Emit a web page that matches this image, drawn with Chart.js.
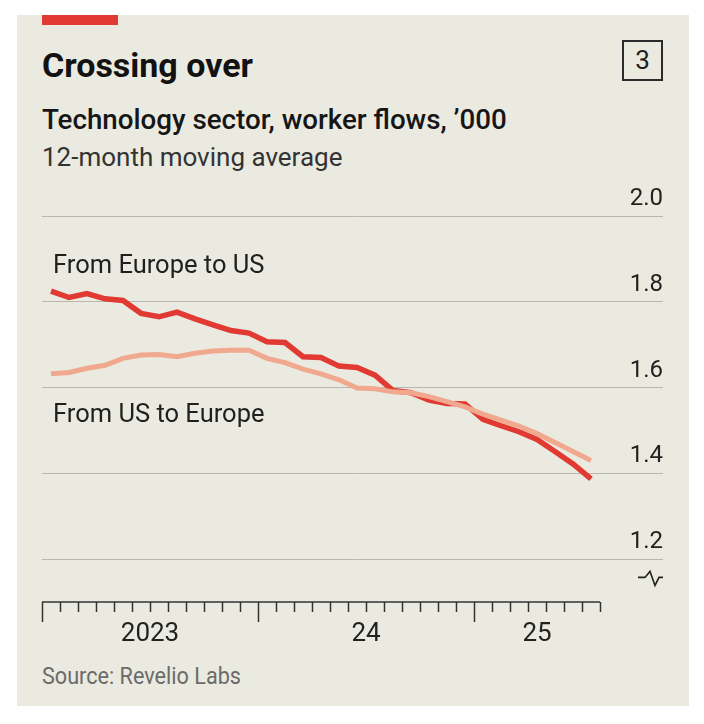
<!DOCTYPE html>
<html>
<head>
<meta charset="utf-8">
<script src="https://cdn.jsdelivr.net/npm/chart.js@4.4.1/dist/chart.umd.min.js"></script>
<style>
  body { margin: 0; background: #fff; font-family: Roboto, sans-serif; }
  #panel { position: absolute; left: 17px; top: 15px; width: 672px; height: 691px; background: #ebeae0; }
  .txt { position: absolute; white-space: nowrap; line-height: 1; transform-origin: 0 0; }
  #bar { position: absolute; left: 42px; top: 15px; width: 76px; height: 10px; background: #e03a33; }
  #title { left: 42px; top: 48px; font-size: 34px; font-weight: 700; color: #121212; transform: scaleX(1.0); }
  #sub { left: 42px; top: 106px; font-size: 28px; font-weight: 500; color: #161616; transform: scaleX(0.99); }
  #sub2 { left: 42px; top: 144px; font-size: 26px; font-weight: 400; color: #333; }
  #num { position: absolute; left: 622px; top: 40px; width: 37px; height: 37px; border: 2px solid #2b2b2b;
         font-size: 26px; line-height: 37px; text-align: center; color: #222; }
  #source { left: 42px; top: 665px; font-size: 23px; color: #6b6b6b; transform: scaleX(0.94); }
  #wrap { position: absolute; left: 17px; top: 170px; width: 672px; height: 480px; }
</style>
</head>
<body>
<div id="panel"></div>
<div id="bar"></div>
<div class="txt" id="title">Crossing over</div>
<div id="num">3</div>
<div class="txt" id="sub">Technology sector, worker flows, ’000</div>
<div class="txt" id="sub2">12-month moving average</div>
<div id="wrap"><canvas id="myChart"></canvas></div>
<div class="txt" id="source">Source: Revelio Labs</div>
<script>
// months from Jan 2023, one point per month (mid-month)
const euToUs = [1.825, 1.810, 1.819, 1.807, 1.803, 1.773, 1.765, 1.776, 1.760, 1.746,
  1.733, 1.727, 1.707, 1.705, 1.672, 1.670, 1.650, 1.647, 1.629, 1.593,
  1.588, 1.571, 1.563, 1.562, 1.526, 1.511, 1.497, 1.479, 1.451, 1.422, 1.387];
const usToEu = [1.632, 1.635, 1.645, 1.652, 1.668, 1.676, 1.677, 1.672, 1.680, 1.685,
  1.687, 1.687, 1.668, 1.658, 1.643, 1.632, 1.618, 1.599, 1.597, 1.590,
  1.588, 1.579, 1.567, 1.555, 1.538, 1.524, 1.510, 1.493, 1.472, 1.451, 1.430];
const seriesNames = ["From Europe to US", "From US to Europe"];
const yearLabels = ["2023", "24", "25"];
const yearStarts = [0, 12, 24];   // month index where each year starts
const monthCount = 31;            // Jan 2023 .. Jul 2025
const yTicks = [1.2, 1.4, 1.6, 1.8, 2.0];

const toPoints = arr => arr.map((v, i) => ({ x: i + 0.5, y: v }));

// tick marks, axis break and line labels
const extras = {
  id: "extras",
  afterDraw(chart) {
    const ctx = chart.ctx;
    const xs = chart.scales.x, ys = chart.scales.y;
    const base = chart.chartArea.bottom;
    ctx.save();
    ctx.strokeStyle = "#333";
    ctx.lineWidth = 1.5;
    ctx.beginPath();
    ctx.moveTo(xs.getPixelForValue(0), base);
    ctx.lineTo(xs.getPixelForValue(monthCount), base);
    for (let m = 0; m <= monthCount; m++) {
      const px = Math.round(xs.getPixelForValue(m)) + 0.5;
      const len = yearStarts.includes(m) ? 20 : 10;
      ctx.moveTo(px, base);
      ctx.lineTo(px, base + len);
    }
    ctx.stroke();

    // axis break symbol
    const by = ys.getPixelForValue(1.155);
    const bx = chart.chartArea.right;
    ctx.lineWidth = 1.6;
    ctx.strokeStyle = "#222";
    ctx.beginPath();
    ctx.moveTo(bx - 25, by - 1);
    ctx.lineTo(bx - 18, by - 1);
    ctx.lineTo(bx - 13, by - 7);
    ctx.lineTo(bx - 8, by + 7);
    ctx.lineTo(bx - 4, by - 1);
    ctx.lineTo(bx, by - 1);
    ctx.stroke();

    // series labels
    ctx.fillStyle = "#1f1f1f";
    ctx.font = "25.5px Roboto";
    ctx.textBaseline = "alphabetic";
    const lx = xs.getPixelForValue(0) + 11;
    ctx.fillText(seriesNames[0], lx, ys.getPixelForValue(1.867));
    ctx.fillText(seriesNames[1], lx, ys.getPixelForValue(1.520));
    ctx.restore();
  }
};

new Chart(document.getElementById("myChart"), {
  type: "line",
  data: {
    datasets: [
      {
        label: seriesNames[1],
        data: toPoints(usToEu),
        borderColor: "#f0a88f",
        borderWidth: 5,
        pointRadius: 0,
        tension: 0,
      },
      {
        label: seriesNames[0],
        data: toPoints(euToUs),
        borderColor: "#e03a33",
        borderWidth: 5.5,
        pointRadius: 0,
        tension: 0,
      },
    ],
  },
  options: {
    responsive: true,
    maintainAspectRatio: false,
    animation: false,
    layout: { padding: { left: 25, right: 26, top: 46, bottom: 0 } },
    plugins: { legend: { display: false }, tooltip: { enabled: false } },
    scales: {
      x: {
        type: "linear",
        min: 0,
        max: 34.5,   // right part of the plot is left empty for the value labels
        grid: { display: false, drawTicks: false },
        border: { display: false },
        afterBuildTicks: s => {
          s.ticks = yearStarts.map(st => ({ value: (st + Math.min(st + 12, monthCount)) / 2 }));
        },
        afterFit: s => { s.height = 48; },
        ticks: {
          autoSkip: false,
          maxRotation: 0,
          padding: 17,
          color: "#222",
          font: { family: "Roboto", size: 26 },
          callback: (v, i) => yearLabels[i],
        },
      },
      y: {
        position: "right",
        min: 1.1,
        max: 2.0,
        afterBuildTicks: s => { s.ticks = yTicks.map(v => ({ value: v })); },
        afterFit: s => { s.width = 0; },
        grid: { color: "#b9b8b0", lineWidth: 1, drawTicks: false },
        border: { display: false },
        ticks: {
          mirror: true,
          padding: 0,
          labelOffset: -17,
          color: "#222",
          font: { family: "Roboto", size: 24 },
          callback: v => v.toFixed(1),
        },
      },
    },
  },
  plugins: [extras],
});
</script>
</body>
</html>
